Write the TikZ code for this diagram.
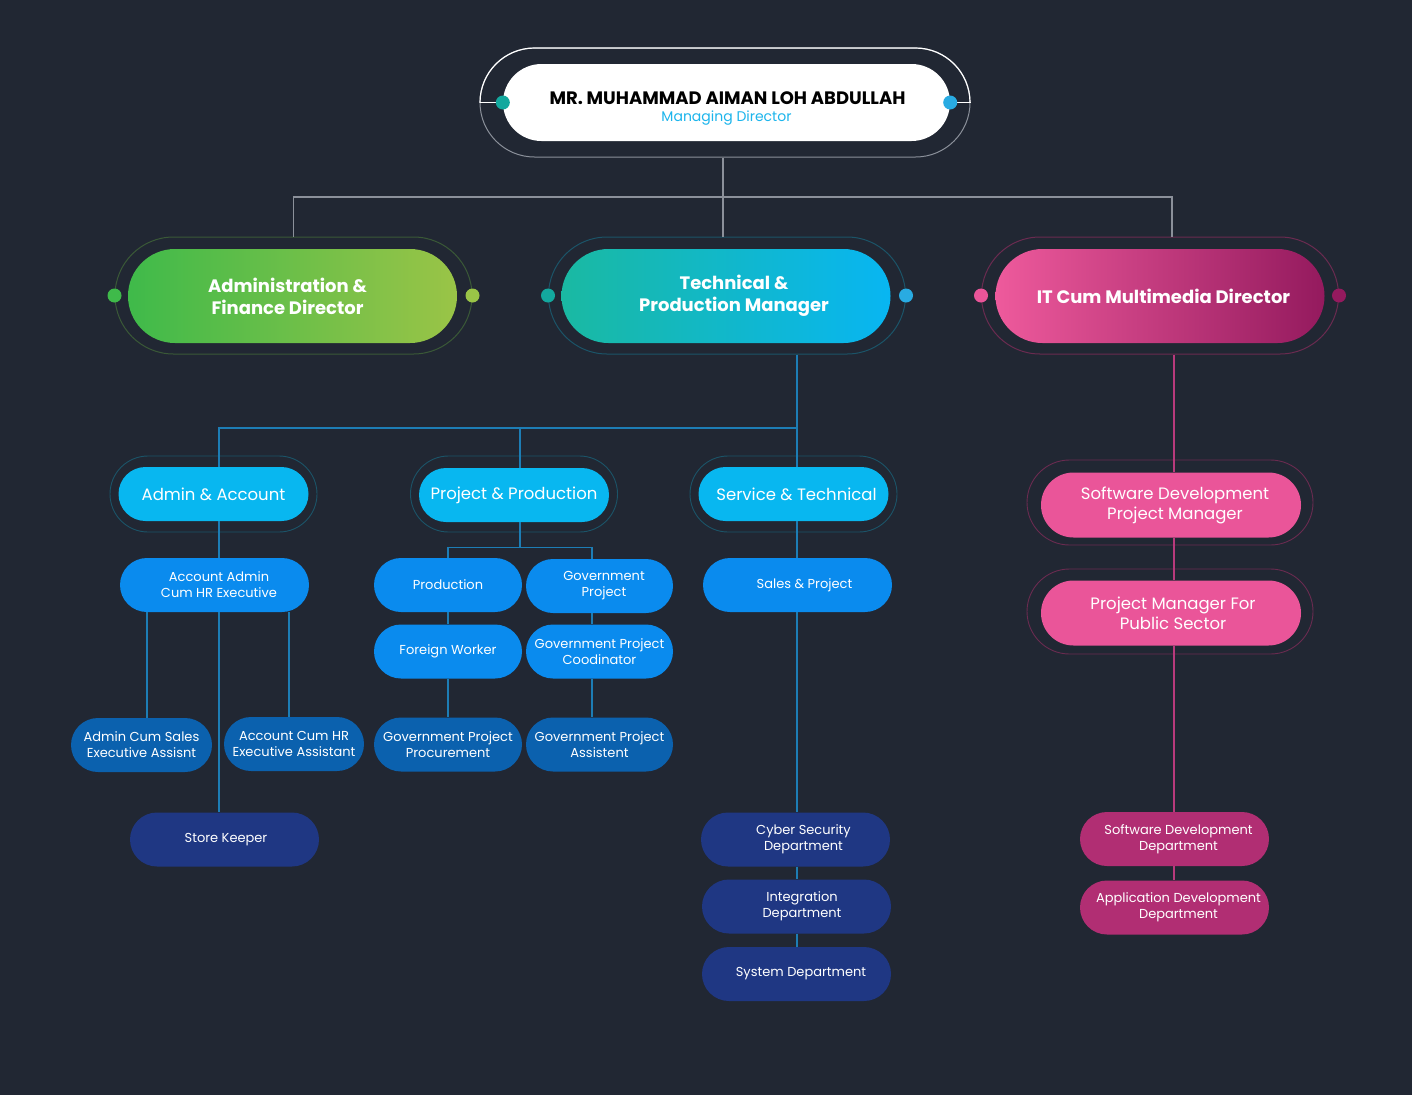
\documentclass[tikz,border=0pt]{standalone}
\usepackage{fontspec}
\setmainfont{Poppins}
\usetikzlibrary{shapes.misc}

\definecolor{bgnavy}{HTML}{212733}
\definecolor{greyline}{HTML}{8B909A}
\definecolor{blueline}{HTML}{1D7DB5}
\definecolor{pinkline}{HTML}{B83A7C}
\definecolor{subcyan}{HTML}{1CB5EC}
\definecolor{dotteal}{HTML}{13A89E}
\definecolor{dotblue}{HTML}{29ABE2}
\definecolor{greenA}{HTML}{3FBA4A}
\definecolor{greenB}{HTML}{9AC447}
\definecolor{greenring}{HTML}{3A5937}
\definecolor{techA}{HTML}{1AB9A2}
\definecolor{techB}{HTML}{08B6F2}
\definecolor{tealring}{HTML}{1B5468}
\definecolor{pinkA}{HTML}{EE5A9C}
\definecolor{pinkB}{HTML}{941A5E}
\definecolor{pinkring}{HTML}{6A2B50}
\definecolor{unitcyan}{HTML}{08B7F0}
\definecolor{staffblue}{HTML}{0A8BEE}
\definecolor{staffmid}{HTML}{0B61AE}
\definecolor{staffnavy}{HTML}{1F3783}
\definecolor{pmpink}{HTML}{EA5599}
\definecolor{deptpink}{HTML}{B12E73}

% push a centred line sideways by half the given amount
\newcommand{\nudge}[1]{\hspace*{#1}}

\tikzset{
  pill/.style={rounded rectangle, inner sep=0pt, align=center},
  headbox/.style={pill, minimum width=329pt, minimum height=94pt, text=white,
    font=\fontsize{18}{22}\selectfont\bfseries},
  headring/.style={pill, draw=#1, line width=1pt, minimum width=357pt, minimum height=117pt},
  unitbox/.style={pill, fill=unitcyan, minimum width=190pt, minimum height=54pt, text=white,
    font=\fontsize{16.5}{20}\selectfont},
  unitring/.style={pill, draw=tealring, line width=0.9pt, minimum width=207pt, minimum height=76pt},
  staffbox/.style={pill, fill=#1, text=white, minimum width=189pt, minimum height=54pt,
    font=\fontsize{13}{16}\selectfont},
  pmbox/.style={pill, fill=pmpink, text=white, minimum width=260pt, minimum height=65pt,
    font=\fontsize{16.5}{20}\selectfont},
  pmring/.style={pill, draw=pinkring, line width=0.9pt, minimum width=286pt, minimum height=85pt},
  link/.style={draw=#1, line width=1.2pt},
}

\begin{document}
\begin{tikzpicture}[x=1pt, y=-1pt]
\fill[bgnavy] (0,0) rectangle (1412,1095);
\useasboundingbox (0,0) rectangle (1412,1095);

% managing director
\node[pill, draw=greyline, line width=1pt, minimum width=490pt, minimum height=109pt] (mdring) at (725,102.5) {};
\begin{scope}
  \clip (470,40) rectangle (980,102.5);
  \node[pill, draw=white, line width=1.2pt, minimum width=490pt, minimum height=109pt] at (725,102.5) {};
\end{scope}
\node[pill, fill=white, minimum width=447pt, minimum height=77pt, font=\fontsize{14}{17}\selectfont] (md) at (726.5,102.5)
  {{\fontsize{18}{18}\selectfont\bfseries \rule{0pt}{24pt}\nudge{2pt}MR. MUHAMMAD AIMAN LOH ABDULLAH}\\
   {\color{subcyan}Managing Director}};
\draw[link=white] (mdring.west) -- (md.west);
\draw[link=white] (mdring.east) -- (md.east);
\fill[dotteal] (md.west) circle (7);
\fill[dotblue] (md.east) circle (7);

% directors
\node[headring=greenring] (afdring) at (293.5,295.5) {};
\node[headbox, left color=greenA, right color=greenB] (afd) at (292.5,296) {\nudge{-10pt}Administration \&\\\nudge{-10pt}Finance Director};
\fill[greenA] (afdring.west) circle (7);
\fill[greenB] (afdring.east) circle (7);

\node[headring=tealring] (tpmring) at (727,295.5) {};
\node[headbox, left color=techA, right color=techB] (tpm) at (726,296) {\nudge{16pt}Technical \&\\\nudge{16pt}Production Manager};
\fill[dotteal] (tpmring.west) circle (7);
\fill[dotblue] (tpmring.east) circle (7);

\node[headring=pinkring] (itdring) at (1160,295.5) {};
\node[headbox, left color=pinkA, middle color=pinkA!45!pinkB, right color=pinkB] (itd) at (1160,296) {\nudge{7pt}IT Cum Multimedia Director};
\fill[pmpink] (itdring.west) circle (7);
\fill[pinkB] (itdring.east) circle (7);

% units under technical
\node[unitring] (admaccring) at (213.5,494) {};
\node[unitbox] (admacc) at (213.5,494) {Admin \& Account};
\node[unitring] (projprodring) at (514,494) {};
\node[unitbox] (projprod) at (514,495) {Project \& Production};
\node[unitring] (servtechring) at (793.5,494) {};
\node[unitbox] (servtech) at (793.5,494) {\nudge{6pt}Service \& Technical};

% admin & account staff
\node[staffbox=staffblue] (accadm) at (214.5,585) {\nudge{9pt}Account Admin\\\nudge{9pt}Cum HR Executive};
\node[staffbox=staffmid, minimum width=141pt] (salesast) at (141.5,745) {Admin Cum Sales\\Executive Assisnt};
\node[staffbox=staffmid, minimum width=140pt] (acchrast) at (294,744) {Account Cum HR\\Executive Assistant};
\node[staffbox=staffnavy] (storekpr) at (224.5,839.5) {\nudge{3pt}Store Keeper};

% project & production staff
\node[staffbox=staffblue, minimum width=148pt] (prodn) at (448,585) {Production};
\node[staffbox=staffblue, minimum width=147pt] (govproj) at (599.5,586) {\nudge{9pt}Government\\\nudge{9pt}Project};
\node[staffbox=staffblue, minimum width=148pt] (fworker) at (448,651.5) {Foreign Worker};
\node[staffbox=staffblue, minimum width=147pt] (govcoord) at (599.5,651.5) {Government Project\\Coodinator};
\node[staffbox=staffmid, minimum width=148pt] (govproc) at (448,744.5) {Government Project\\Procurement};
\node[staffbox=staffmid, minimum width=147pt] (govasst) at (599.5,744.5) {Government Project\\Assistent};

% service & technical staff
\node[staffbox=staffblue] (salesproj) at (797.5,585) {\nudge{14pt}Sales \& Project};
\node[staffbox=staffnavy] (cyber) at (795.5,839.5) {\nudge{16pt}Cyber Security\\\nudge{16pt}Department};
\node[staffbox=staffnavy] (integ) at (796.5,906.5) {\nudge{11pt}Integration\\\nudge{11pt}Department};
\node[staffbox=staffnavy] (sysdept) at (796.5,974) {\nudge{9pt}System Department};

% it multimedia
\node[pmring] (sdpmring) at (1170,502.5) {};
\node[pmbox] (sdpm) at (1171,505) {\nudge{8pt}Software Development\\\nudge{8pt}Project Manager};
\node[pmring] (pmpsring) at (1170,611.5) {};
\node[pmbox] (pmps) at (1171,613) {\nudge{4pt}Project Manager For\\\nudge{4pt}Public Sector};
\node[staffbox=deptpink] (sddept) at (1174.5,839) {\nudge{8pt}Software Development\\\nudge{8pt}Department};
\node[staffbox=deptpink] (addept) at (1174.5,907.5) {\nudge{8pt}Application Development\\\nudge{8pt}Department};

% connectors
\coordinate (busone) at (723,197);
\coordinate (bustwo) at (797,428);
\coordinate (cola) at (219,0);
\coordinate (colb) at (520,0);
\coordinate (cold) at (1174,0);

\draw[link=greyline] (mdring.south -| busone) -- (busone);
\draw[link=greyline] (afdring.north) |- (busone) -| ([xshift=12pt]itdring.north);
\draw[link=greyline] (busone) -- (tpmring.north -| busone);

\draw[link=blueline] (tpmring.south -| bustwo) -- (bustwo);
\draw[link=blueline] (admacc.north -| cola) |- (bustwo) -- (servtech.north -| bustwo);
\draw[link=blueline] (bustwo -| colb) -- (projprod.north -| colb);

\draw[link=blueline] (admacc.south -| cola) -- (accadm.north -| cola);
\draw[link=blueline] (accadm.south -| cola) -- (storekpr.north -| cola);
\draw[link=blueline] ([xshift=5.5pt]salesast.north) -- ([xshift=5.5pt]salesast.north |- accadm.south);
\draw[link=blueline] ([xshift=-5pt]acchrast.north) -- ([xshift=-5pt]acchrast.north |- accadm.south);

\draw[link=blueline] (projprod.south -| colb) -- ++(0,25) coordinate (busthree);
\draw[link=blueline] (prodn.north) |- (busthree) -| ([xshift=-7.5pt]govproj.north);
\draw[link=blueline] (prodn.south) -- (fworker.north);
\draw[link=blueline] (fworker.south) -- (govproc.north);
\draw[link=blueline] ([xshift=-7.5pt]govproj.south) -- ([xshift=-7.5pt]govcoord.north);
\draw[link=blueline] ([xshift=-7.5pt]govcoord.south) -- ([xshift=-7.5pt]govasst.north);

\draw[link=blueline] (servtech.south -| bustwo) -- (salesproj.north -| bustwo);
\draw[link=blueline] (salesproj.south -| bustwo) -- (cyber.north -| bustwo);
\draw[link=blueline] (cyber.south -| bustwo) -- (integ.north -| bustwo);
\draw[link=blueline] (integ.south -| bustwo) -- (sysdept.north -| bustwo);

\draw[link=pinkline] (itdring.south -| cold) -- (sdpm.north -| cold);
\draw[link=pinkline] (sdpm.south -| cold) -- (pmps.north -| cold);
\draw[link=pinkline] (pmps.south -| cold) -- (sddept.north -| cold);
\draw[link=pinkline] (sddept.south -| cold) -- (addept.north -| cold);

\end{tikzpicture}
\end{document}
